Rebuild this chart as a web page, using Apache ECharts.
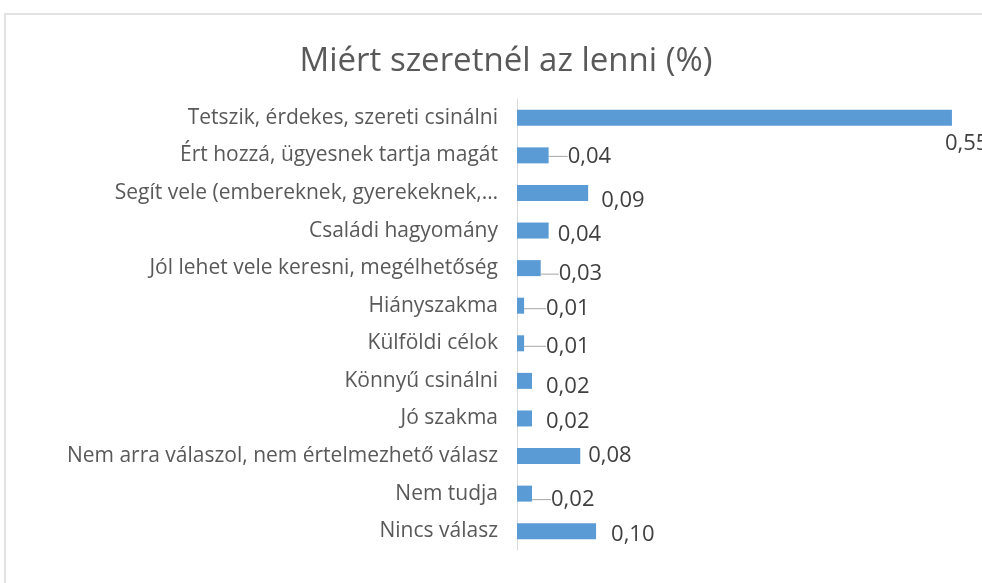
<!DOCTYPE html>
<html>
<head>
<meta charset="utf-8">
<script src="https://cdn.jsdelivr.net/npm/echarts@6/dist/echarts.min.js"></script>
<style>
  html, body { margin: 0; padding: 0; background: #fff; }
  #chart { width: 982px; height: 583px; }
</style>
</head>
<body>
<div id="chart"></div>
<script>
const categories = [
    'Tetszik, érdekes, szereti csinálni',
    'Ért hozzá, ügyesnek tartja magát',
    'Segít vele (embereknek, gyerekeknek,…',
    'Családi hagyomány',
    'Jól lehet vele keresni, megélhetőség',
    'Hiányszakma',
    'Külföldi célok',
    'Könnyű csinálni',
    'Jó szakma',
    'Nem arra válaszol, nem értelmezhető válasz',
    'Nem tudja',
    'Nincs válasz'
];
const values = [0.55, 0.04, 0.09, 0.04, 0.03, 0.009, 0.009, 0.019, 0.019, 0.08, 0.019, 0.10];

// where Excel moved each data label (dx, dy from the bar end)
const labelShift = [[-7, 26], [19, 1], [13, 8], [9, 4], [18, 6], [22, 3], [22, 3], [14, 6], [14, 3], [8, 0], [19, 6], [15, 4]];
const withLeader = [1, 4, 5, 6, 10];

const myChart = echarts.init(document.getElementById('chart'));

const option = {
    animation: false,
    title: {
        text: 'Miért szeretnél az lenni (%)',
        left: 501,
        textAlign: 'center',
        top: 40,
        textStyle: { fontFamily: 'Open Sans', fontSize: 33, fontWeight: 'normal', color: '#595959' }
    },
    graphic: [{
        type: 'rect',
        shape: { x: 5, y: 14, width: 1000, height: 600 },
        style: { fill: 'none', stroke: '#d9d9d9', lineWidth: 1.5 },
        silent: true
    }],
    grid: { left: 517, top: 99, height: 451, right: 0 },
    xAxis: {
        type: 'value',
        min: 0,
        max: 0.588,
        show: false
    },
    yAxis: {
        type: 'category',
        inverse: true,
        data: categories,
        axisLine: { lineStyle: { color: '#d9d9d9', width: 1 } },
        axisTick: { show: false },
        axisLabel: { margin: 19, fontFamily: 'Open Sans', fontSize: 21, color: '#595959' }
    },
    series: [{
        type: 'bar',
        barWidth: 16,
        itemStyle: { color: '#5b9bd5' },
        data: values.map((v, i) => ({
            value: v,
            labelLine: { show: withLeader.indexOf(i) >= 0 }
        })),
        label: {
            show: true,
            position: 'right',
            distance: 0,
            fontFamily: 'Open Sans',
            fontSize: 22,
            color: '#404040',
            formatter: p => p.value.toFixed(2).replace('.', ',')
        },
        labelLine: { show: true, lineStyle: { color: '#a6a6a6', width: 1 } },
        labelLayout: p => ({ dx: labelShift[p.dataIndex][0], dy: labelShift[p.dataIndex][1] })
    }]
};

myChart.setOption(option);
</script>
</body>
</html>
